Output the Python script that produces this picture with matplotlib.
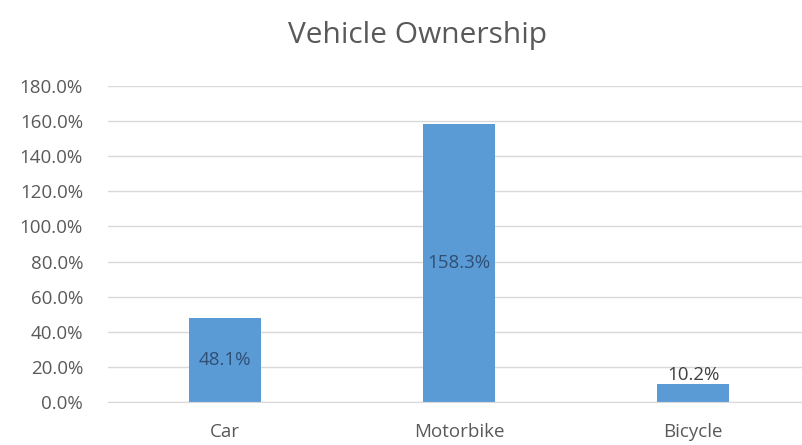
import matplotlib.pyplot as plt
from matplotlib.ticker import PercentFormatter

categories = ["Car", "Motorbike", "Bicycle"]
ownership = [48.1, 158.3, 10.2]
y_ticks = [0, 20, 40, 60, 80, 100, 120, 140, 160, 180]

plt.rcParams["font.family"] = ["Open Sans", "DejaVu Sans"]

fig = plt.figure(figsize=(8.03, 4.45), dpi=100)
ax = fig.add_axes([108 / 803, 43 / 445, 702 / 803, 316 / 445])

bars = ax.bar(range(len(categories)), ownership, width=0.31, color="#5B9BD5", zorder=2)

# labels sit in the middle of tall bars, above short ones
for rect, val in zip(bars, ownership):
    x = rect.get_x() + rect.get_width() / 2
    if val > 20:
        ax.text(x, val / 2, f"{val:.1f}%", ha="center", va="center",
                fontsize=13.5, color="#2F4F75", zorder=3)
    else:
        ax.text(x, val + 0.3, f"{val:.1f}%", ha="center", va="bottom",
                fontsize=13.5, color="#404040", zorder=3)

ax.set_xlim(-0.5, 2.5)
ax.set_ylim(0, 180)
ax.set_yticks(y_ticks)
ax.yaxis.set_major_formatter(PercentFormatter(decimals=1))
ax.set_xticks(range(len(categories)))
ax.set_xticklabels(categories)

ax.grid(axis="y", color="#D9D9D9", linewidth=1, zorder=0)
for side in ["top", "right", "left"]:
    ax.spines[side].set_visible(False)
ax.spines["bottom"].set_color("#D9D9D9")
ax.tick_params(length=0, labelsize=13.5, colors="#595959")
ax.tick_params(axis="y", pad=18)
ax.tick_params(axis="x", pad=15)

fig.text(418 / 803, 1 - 36 / 445, "Vehicle Ownership", ha="center", va="center",
         fontsize=21.5, color="#595959")

fig.savefig("out.png", dpi=100)
